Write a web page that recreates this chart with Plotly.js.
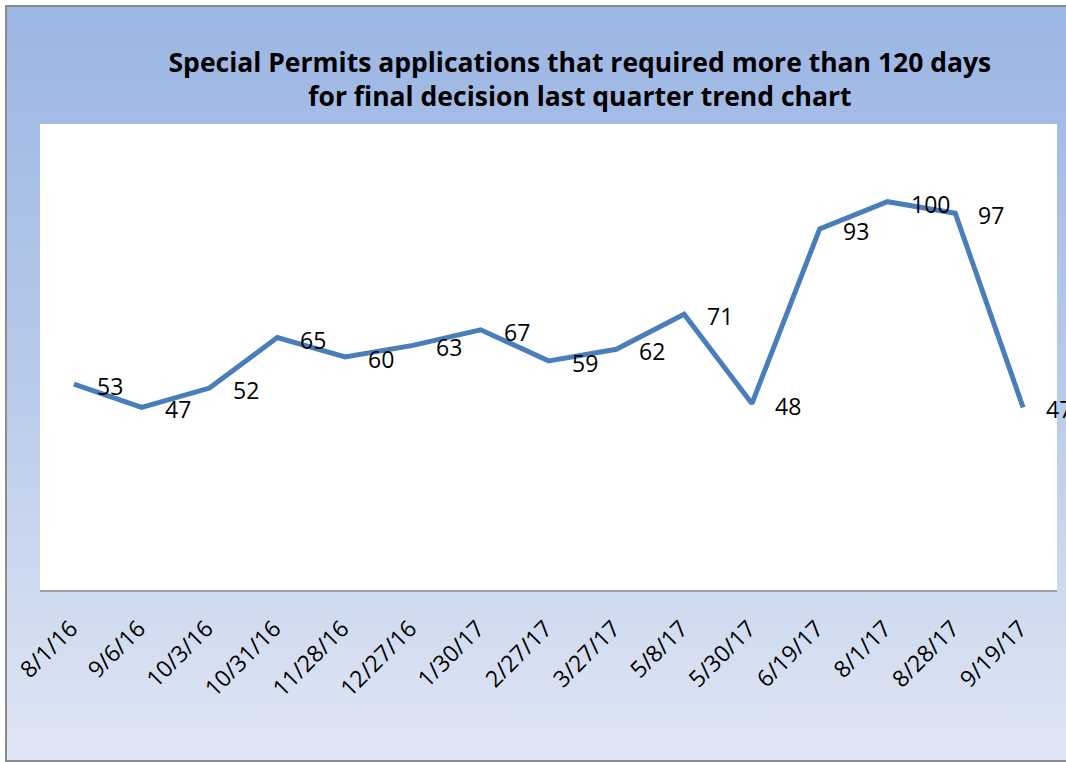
<!DOCTYPE html>
<html>
<head>
<meta charset="utf-8">
<script src="https://cdn.plot.ly/plotly-3.0.1.min.js"></script>
<style>
  html, body { margin: 0; padding: 0; background: #ffffff; overflow: hidden; }
  #frame {
    position: absolute; left: 5px; top: 5px; width: 1100px; height: 753px;
    border: 2px solid #8c8c8c; border-right: none;
    background: linear-gradient(to bottom, #9bb6e3 0%, #b5c8ea 45%, #dfe6f3 100%);
  }
  #chart { position: absolute; left: 0; top: 0; width: 1066px; height: 762px; }
</style>
</head>
<body>
<div id="frame"></div>
<div id="chart"></div>
<script>
const categories = ["8/1/16","9/6/16","10/3/16","10/31/16","11/28/16","12/27/16","1/30/17","2/27/17","3/27/17","5/8/17","5/30/17","6/19/17","8/1/17","8/28/17","9/19/17"];
const values = [53,47,52,65,60,63,67,59,62,71,48,93,100,97,47];
const titleText = "Special Permits applications that required more than 120 days<br>for final decision last quarter trend chart";

const trace = {
  x: categories,
  y: values,
  type: "scatter",
  mode: "lines",
  line: { color: "#4a7ebb", width: 5 },
  hoverinfo: "skip"
};

const annotations = categories.map((c, i) => ({
  x: c, y: values[i], xref: "x", yref: "y",
  text: String(values[i]),
  showarrow: false,
  xanchor: "left", yanchor: "middle",
  xshift: 21, yshift: -2,
  font: { family: "Open Sans, sans-serif", size: 23, color: "#000000" }
}));

const layout = {
  width: 1066, height: 762,
  margin: { l: 40, r: 9, t: 124, b: 172, pad: 0 },
  paper_bgcolor: "rgba(0,0,0,0)",
  plot_bgcolor: "#ffffff",
  showlegend: false,
  title: {
    text: titleText,
    font: { family: "Open Sans, sans-serif", size: 26.5, color: "#000000", weight: "bold" },
    xref: "container", yref: "container",
    x: 0.544, xanchor: "center",
    y: 1 - 72 / 762, yanchor: "middle"
  },
  xaxis: {
    type: "category",
    range: [-0.5, 14.5],
    tickangle: -45,
    ticks: "outside", ticklen: 14, tickcolor: "rgba(0,0,0,0)",
    ticklabelshift: -3,
    tickfont: { family: "Open Sans, sans-serif", size: 23, color: "#000000" },
    showgrid: false, zeroline: false,
    showline: true, linecolor: "#a0a0a0", linewidth: 2,
    fixedrange: true
  },
  yaxis: {
    range: [0, 120],
    showgrid: false, zeroline: false, showline: false,
    showticklabels: false, ticks: "",
    fixedrange: true
  },
  annotations: annotations
};

Plotly.newPlot("chart", [trace], layout, { displayModeBar: false, staticPlot: true });
</script>
</body>
</html>
